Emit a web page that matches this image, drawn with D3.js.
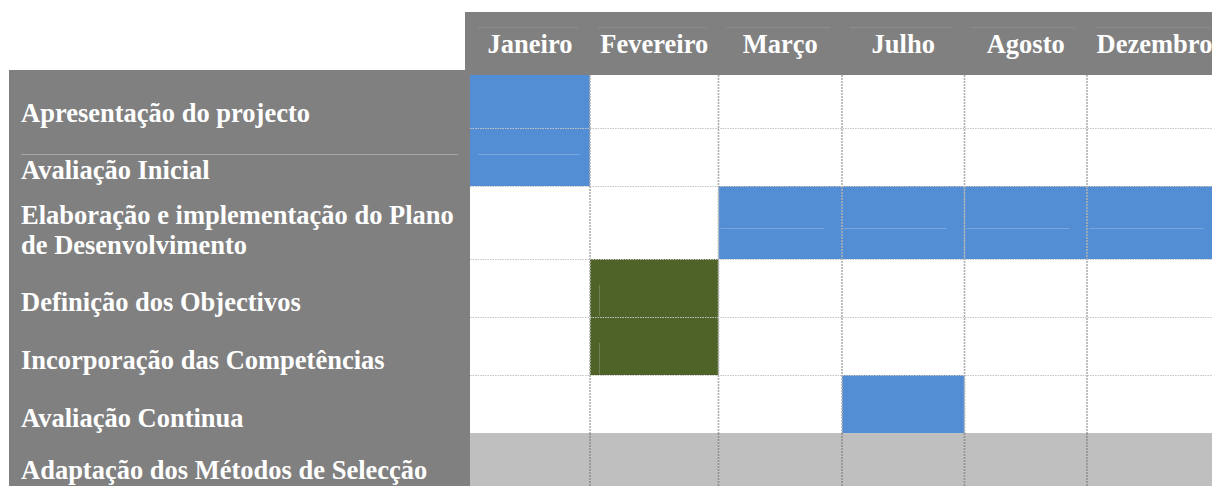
<!DOCTYPE html>
<html>
<head>
<meta charset="utf-8">
<script src="https://cdn.jsdelivr.net/npm/d3@7"></script>
<style>
  html, body { margin: 0; padding: 0; background: #ffffff; }
  svg { display: block; }
  text { font-family: "Liberation Serif", "Times New Roman", serif; font-weight: bold; }
</style>
</head>
<body>
<svg id="chart" width="1212" height="486"></svg>
<script>
// ---------------- DATA ----------------
const months = ["Janeiro", "Fevereiro", "Março", "Julho", "Agosto", "Dezembro"];
const tasks = [
  "Apresentação do projecto",
  "Avaliação Inicial",
  "Elaboração e implementação do Plano\nde Desenvolvimento",
  "Definição dos Objectivos",
  "Incorporação das Competências",
  "Avaliação Continua",
  "Adaptação dos Métodos de Selecção"
];
const taskMonths = [
  ["Janeiro"],
  ["Janeiro"],
  ["Março", "Julho", "Agosto", "Dezembro"],
  ["Fevereiro"],
  ["Fevereiro"],
  ["Julho"],
  ["Janeiro", "Fevereiro", "Março", "Julho", "Agosto", "Dezembro"]
];
const taskPhase = ["azul", "azul", "azul", "verde", "verde", "azul", "cinza"];

// ---------------- LAYOUT ----------------
const colEdges = [470, 590, 718.5, 842, 964.5, 1087, 1222];
const rowEdges = [75, 128, 186, 259, 317, 375, 433, 500];
const phaseColor = d3.scaleOrdinal(["azul", "verde", "cinza"], ["#538ED5", "#4F6228", "#BFBFBF"]);
const panelGrey = "#808080";
const fontSize = 26.5;

const x0 = d3.scaleOrdinal(months, colEdges.slice(0, -1));
const x1 = d3.scaleOrdinal(months, colEdges.slice(1));
const y0 = d3.scaleOrdinal(tasks, rowEdges.slice(0, -1));
const y1 = d3.scaleOrdinal(tasks, rowEdges.slice(1));

const svg = d3.select("#chart");

// header band
svg.append("rect").attr("x", 465).attr("y", 12).attr("width", 1212 - 465).attr("height", 63).attr("fill", panelGrey);
// left panel
svg.append("rect").attr("x", 9).attr("y", 70).attr("width", 470 - 9).attr("height", 486 - 70).attr("fill", panelGrey);

// faint paragraph lines in header
svg.append("g").selectAll("line").data(months).join("line")
  .attr("x1", d => x0(d) + 8).attr("x2", d => x1(d) - 12)
  .attr("y1", 27.5).attr("y2", 27.5)
  .attr("stroke", "#8d8d8d").attr("stroke-width", 1);

// white background of grid
svg.append("rect").attr("x", colEdges[0]).attr("y", rowEdges[0])
  .attr("width", 1212 - colEdges[0]).attr("height", 486 - rowEdges[0]).attr("fill", "#ffffff");

// cells
const cells = [];
tasks.forEach((t, i) => taskMonths[i].forEach(m => cells.push({ task: t, month: m, phase: taskPhase[i] })));
svg.append("g").selectAll("rect").data(cells).join("rect")
  .attr("x", d => x0(d.month))
  .attr("y", d => y0(d.task))
  .attr("width", d => x1(d.month) - x0(d.month))
  .attr("height", d => y1(d.task) - y0(d.task))
  .attr("fill", d => phaseColor(d.phase));

// faint paragraph marks inside coloured cells
svg.append("g").selectAll("line").data(cells.filter(d => d.phase === "azul" && (d.task === tasks[1] || d.task === tasks[2])))
  .join("line")
  .attr("x1", d => x0(d.month) + (d.month === "Janeiro" ? 8 : 2))
  .attr("x2", d => x1(d.month) - (d.month === "Janeiro" ? 10 : 18))
  .attr("y1", d => d.task === tasks[1] ? 154.5 : 228.5)
  .attr("y2", d => d.task === tasks[1] ? 154.5 : 228.5)
  .attr("stroke", "#7aa6dd").attr("stroke-width", 1);
svg.append("g").selectAll("line").data(cells.filter(d => d.phase === "verde"))
  .join("line")
  .attr("x1", d => x0(d.month) + 9.5).attr("x2", d => x0(d.month) + 9.5)
  .attr("y1", d => y0(d.task) + 26).attr("y2", d => y1(d.task) - 1)
  .attr("stroke", "#727f55").attr("stroke-width", 1);

// grid: horizontal dotted lines
svg.append("g").selectAll("line").data(rowEdges.slice(1, -1)).join("line")
  .attr("x1", colEdges[0]).attr("x2", 1212)
  .attr("y1", d => d + 0.5).attr("y2", d => d + 0.5)
  .attr("stroke", "#c4c4c4").attr("stroke-width", 1.2).attr("stroke-dasharray", "1.5,1");
// grid: vertical dashed lines (white rows)
svg.append("g").selectAll("line").data(colEdges.slice(1, -1)).join("line")
  .attr("x1", d => d).attr("x2", d => d)
  .attr("y1", rowEdges[0]).attr("y2", rowEdges[6])
  .attr("stroke", "#b0b0b0").attr("stroke-width", 1.6).attr("stroke-dasharray", "2,1");
// grid: vertical dashed lines (shaded last row)
svg.append("g").selectAll("line").data(colEdges.slice(1, -1)).join("line")
  .attr("x1", d => d).attr("x2", d => d)
  .attr("y1", rowEdges[6]).attr("y2", 486)
  .attr("stroke", "#8f8f8f").attr("stroke-width", 1.6).attr("stroke-dasharray", "2,1");

// left panel faint line under first task
svg.append("line").attr("x1", 21).attr("x2", 458).attr("y1", 154.5).attr("y2", 154.5)
  .attr("stroke", "#a6a6a6").attr("stroke-width", 1);

// header labels
svg.append("g").selectAll("text").data(months).join("text")
  .attr("x", d => (x0(d) + x1(d)) / 2)
  .attr("y", 53)
  .attr("text-anchor", "middle")
  .attr("fill", "#ffffff")
  .attr("font-size", fontSize)
  .text(d => d);

// task labels
const baselines = [122, 179, 224, 311, 369, 427, 479];
const lineGap = 30;
const labels = svg.append("g").selectAll("text").data(tasks).join("text")
  .attr("x", 21)
  .attr("y", (d, i) => baselines[i])
  .attr("fill", "#ffffff")
  .attr("font-size", fontSize);
labels.selectAll("tspan").data(d => d.split("\n")).join("tspan")
  .attr("x", 21)
  .attr("dy", (d, i) => i === 0 ? 0 : lineGap)
  .text(d => d);
</script>
</body>
</html>
